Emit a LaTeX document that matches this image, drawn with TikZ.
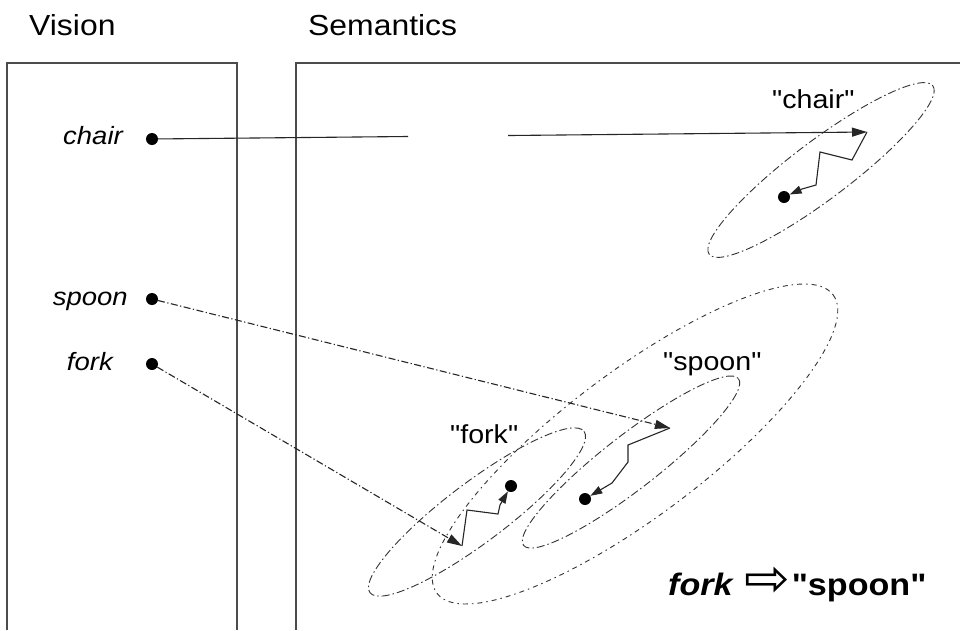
\documentclass[tikz,border=0pt]{standalone}
\usepackage{fontspec}
\usepackage{graphicx}
\setmainfont{Liberation Sans}[Ligatures=TeXOff, FakeStretch=1.1]
\newfontfamily\symfont{DejaVu Sans}
\usetikzlibrary{arrows.meta}

\begin{document}
\begin{tikzpicture}[x=1pt,y=-1pt,
  panel/.style={draw=black!70, line width=1.2pt},
  dot/.style={circle, fill=black, inner sep=0pt, minimum size=12pt},
  title/.style={font=\fontsize{29}{31}\selectfont, anchor=base west, inner sep=0pt},
  word/.style={font=\fontsize{25}{27}\selectfont\itshape, anchor=base east, inner sep=0pt},
  concept/.style={font=\fontsize{26}{28}\selectfont, anchor=base west, inner sep=0pt},
  dashdot/.style={dash pattern=on 7pt off 2.5pt on 1.2pt off 2.5pt},
  link/.style={draw=black!85, line width=1.1pt, -{Triangle[length=15pt,width=9pt]}},
  drift/.style={draw=black!85, line width=1.1pt, -{Triangle[length=12pt,width=8pt]}},
  cluster/.style={draw=black!80, line width=0.9pt, dash pattern=on 8pt off 3pt on 1.5pt off 3pt},
  region/.style={draw=black!80, line width=0.9pt, dash pattern=on 5pt off 4pt on 1.5pt off 4pt},
]
\useasboundingbox (0,0) rectangle (960,630);
\fill[white] (0,0) rectangle (960,630);

% panel titles
\node[title] (tvision) at (29,35) {Vision};
\node[title] (tsem) at (308,35) {Semantics};

% the two panels, open at the bottom and right
\draw[panel] (7,630) -- (7,63) -- (237,63) -- (237,630);
\draw[panel] (296,630) -- (296,63) -- (960,63);

% concept clusters
\draw[region, rotate around={37:(635,444)}] (635,444) ellipse (248 and 72);
\draw[cluster, rotate around={37:(821,170)}] (821,170) ellipse (140 and 29);
\draw[cluster, rotate around={37.8:(631,462)}] (631,462) ellipse (136 and 27);
\draw[cluster, rotate around={37:(477,512)}] (477,512) ellipse (134 and 30);

% visual inputs
\node[dot] (vchair) at (152,139) {};
\node[dot] (vspoon) at (152,299) {};
\node[dot] (vfork) at (152,364) {};
\node[word] (lchair) at (123,144) {chair};
\node[word] (lspoon) at (128,305) {spoon};
\node[word] (lfork) at (113,370) {fork};

% semantic prototypes
\node[dot] (schair) at (784,197) {};
\node[dot] (sspoon) at (585,499) {};
\node[dot] (sfork) at (511,486) {};
\node[concept] (cchair) at (772,108) {"chair"};
\node[concept] (cspoon) at (663,370) {"spoon"};
\node[concept] (cfork) at (450,443) {"fork"};

% where each input lands in semantic space
\coordinate (chairhit) at (867,132);
\coordinate (spoonhit) at (670,428);
\coordinate (forkhit) at (462,546);

% mappings from vision to semantics
\draw[link, dash pattern=on 250pt off 100pt on 1000pt] (vchair) -- (chairhit);
\draw[link, dashdot] (vspoon) -- (spoonhit);
\draw[link, dashdot] (vfork) -- (forkhit);

% drift towards the prototypes
\draw[drift] (chairhit) -- (852,160) -- (820,152) -- (816,185) -- (802,189) -- (schair);
\draw[drift] (spoonhit) -- (628,445) -- (628,462) -- (612,483) -- (sspoon);
\draw[drift] (forkhit) -- (467,510) -- (498,514) -- (500,505) -- (sfork);

% outcome
\node[anchor=base west, inner sep=0pt, font=\fontsize{31}{33}\selectfont\bfseries] (rule) at (668,595)
  {\textit{fork}\hspace{10pt}\raisebox{-1pt}{\scalebox{1.3}[1.25]{\symfont\mdseries\fontsize{42}{44}\selectfont ⇨}}\hspace{2pt}"spoon"};
\end{tikzpicture}
\end{document}
